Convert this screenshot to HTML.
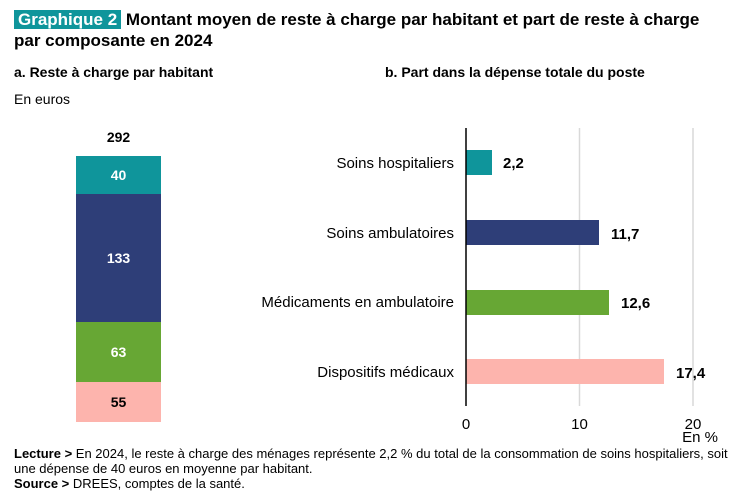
<!DOCTYPE html>
<html><head><meta charset="utf-8"><style>
body{margin:0;width:752px;height:496px;background:#fff;font-family:"Liberation Sans",sans-serif;color:#000;position:relative;overflow:hidden}
.a{position:absolute;white-space:nowrap}
.b{font-weight:bold}
</style></head><body>
<div class="a b" style="left:14px;top:9px;font-size:17px;line-height:21px">
<span style="background:#0f959b;color:#fff;padding:0 4px 0 4px">Graphique 2</span> Montant moyen de reste à charge par habitant et part de reste à charge<br>par composante en 2024</div>
<div class="a b" style="left:14px;top:64px;font-size:14px">a. Reste à charge par habitant</div>
<div class="a" style="left:14px;top:91px;font-size:14px">En euros</div>
<div class="a b" style="left:385px;top:64px;font-size:14px">b. Part dans la dépense totale du poste</div>

<div class="a b" style="left:76px;width:85px;text-align:center;top:129px;font-size:14px">292</div>
<div class="a b" style="left:76px;width:85px;top:156px;height:38px;background:#0f959b;color:#fff;font-size:14px;display:flex;align-items:center;justify-content:center">40</div>
<div class="a b" style="left:76px;width:85px;top:194px;height:128px;background:#2e3e78;color:#fff;font-size:14px;display:flex;align-items:center;justify-content:center">133</div>
<div class="a b" style="left:76px;width:85px;top:322px;height:60px;background:#67a734;color:#fff;font-size:14px;display:flex;align-items:center;justify-content:center">63</div>
<div class="a b" style="left:76px;width:85px;top:382px;height:40px;background:#fdb4ad;color:#000;font-size:14px;display:flex;align-items:center;justify-content:center">55</div>

<svg class="a" style="left:0;top:0" width="752" height="496">
<line x1="579.5" y1="128" x2="579.5" y2="406" stroke="#d9d9d9" stroke-width="1.5"/>
<line x1="693" y1="128" x2="693" y2="406" stroke="#d9d9d9" stroke-width="1.5"/>
<rect x="466" y="150" width="26" height="25" fill="#0f959b"/>
<rect x="466" y="220" width="133" height="25" fill="#2e3e78"/>
<rect x="466" y="290" width="143" height="25" fill="#67a734"/>
<rect x="466" y="359" width="198" height="25" fill="#fdb4ad"/>
<line x1="466" y1="128" x2="466" y2="406" stroke="#000" stroke-width="1.5"/>
<g font-family="Liberation Sans" font-size="15">
<text x="454" y="168" text-anchor="end">Soins hospitaliers</text>
<text x="454" y="238" text-anchor="end">Soins ambulatoires</text>
<text x="454" y="307" text-anchor="end">Médicaments en ambulatoire</text>
<text x="454" y="377" text-anchor="end">Dispositifs médicaux</text>
<g font-weight="bold">
<text x="503" y="168">2,2</text>
<text x="611" y="239">11,7</text>
<text x="621" y="308">12,6</text>
<text x="676" y="378">17,4</text>
</g>
<text x="466" y="429" text-anchor="middle">0</text>
<text x="579.5" y="429" text-anchor="middle">10</text>
<text x="693" y="429" text-anchor="middle">20</text>
<text x="718" y="442" text-anchor="end">En %</text>
</g>
</svg>
<div class="a" style="left:14px;top:446px;font-size:13px;line-height:15px"><b>Lecture &gt;</b> En 2024, le reste à charge des ménages représente 2,2 % du total de la consommation de soins hospitaliers, soit<br>une dépense de 40 euros en moyenne par habitant.<br><b>Source &gt;</b> DREES, comptes de la santé.</div>
</body></html>
